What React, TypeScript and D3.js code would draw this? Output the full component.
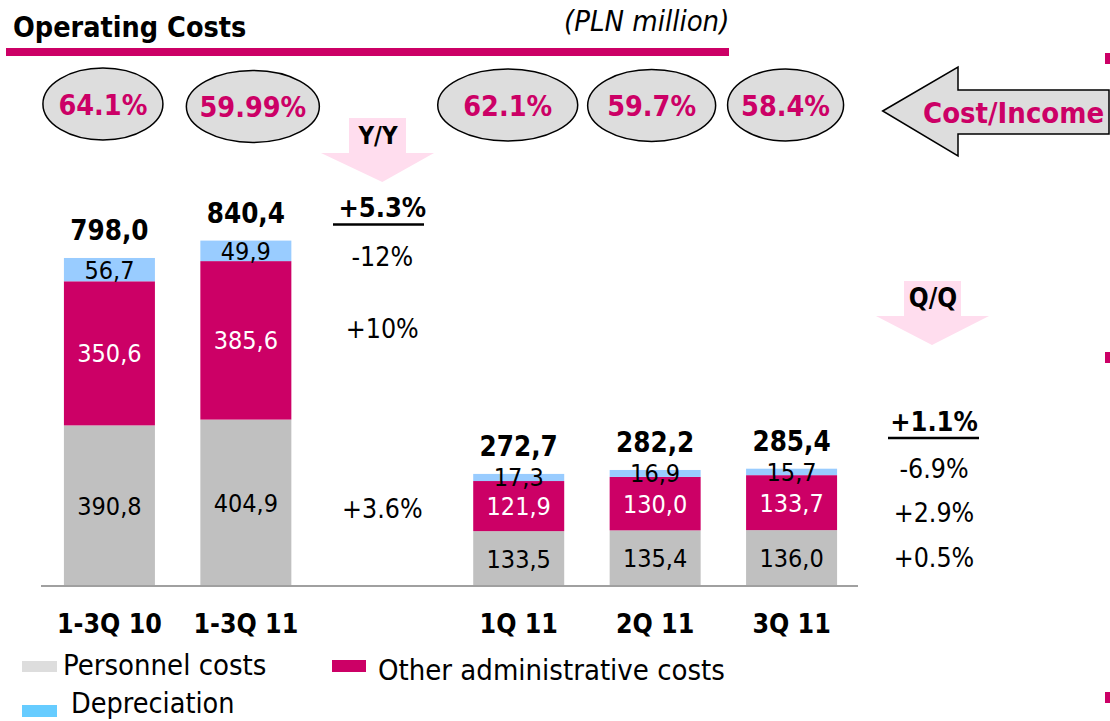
import React from "react";
import * as d3 from "d3";

const categories = ["1-3Q 10", "1-3Q 11", "1Q 11", "2Q 11", "3Q 11"];
const personnel = [390.8, 404.9, 133.5, 135.4, 136.0];
const otherAdmin = [350.6, 385.6, 121.9, 130.0, 133.7];
const depreciation = [56.7, 49.9, 17.3, 16.9, 15.7];
const totals = [798.0, 840.4, 272.7, 282.2, 285.4];
const costIncome = ["64.1%", "59.99%", "62.1%", "59.7%", "58.4%"];
const yoyChanges = ["+5.3%", "-12%", "+10%", "+3.6%"];
const qoqChanges = ["+1.1%", "-6.9%", "+2.9%", "+0.5%"];

const MAGENTA = "#CC0066";
const GRAY = "#C0C0C0";
const BLUE = "#99CCFF";
const FONT = "'DejaVu Sans Condensed', 'DejaVu Sans', sans-serif";

const width = 1110;
const height = 721;

// band slot between the yearly and the quarterly bars holds the Y/Y column
const slots = ["1-3Q 10", "1-3Q 11", "Y/Y", "1Q 11", "2Q 11", "3Q 11"];

const App: React.FC = () => {
  const x = d3
    .scaleBand<string>()
    .domain(slots)
    .range([41, 860])
    .paddingInner(0.333)
    .paddingOuter(0.168);
  const y = d3.scaleLinear().domain([0, 1000]).range([586, 175]);
  const bw = x.bandwidth();

  const stack = d3
    .stack<number>()
    .keys(["personnel", "other", "dep"])
    .value((i, key) =>
      key === "personnel" ? personnel[i] : key === "other" ? otherAdmin[i] : depreciation[i]
    );
  const series = stack(categories.map((_, i) => i));
  const fills = [GRAY, MAGENTA, BLUE];
  const labelFills = ["#000", "#fff", "#000"];
  const segValues = [personnel, otherAdmin, depreciation];

  // ellipse layout (offset from bar centre, radii)
  const ellOffset = [-6.5, 7, -11, -3.5, -6];
  const ellRx = [60, 66.5, 70, 64, 58];
  const ellCy = [104, 106.5, 105, 105.5, 105];
  const ellRy = 36;

  const yoyX = (x("Y/Y") ?? 0) + bw / 2;
  const yoyY = [217, 266, 338, 518];
  const qoqX = 934;
  const qoqY = [431, 478, 522, 567];

  return (
    <svg
      width={width}
      height={height}
      style={{ position: "absolute", left: 0, top: 0, background: "#fff" }}
      fontFamily={FONT}
    >
      {/* header */}
      <text x={13} y={37} fontSize={28.5} fontWeight="bold" fill="#000">
        Operating Costs
      </text>
      <text x={564} y={31} fontSize={29} fontStyle="italic" fill="#000">
        (PLN million)
      </text>
      <rect x={6} y={48} width={723} height={8} fill={MAGENTA} />

      {/* right edge markers */}
      {[53, 352, 692].map((my) => (
        <rect key={my} x={1105} y={my} width={6} height={11} fill={MAGENTA} />
      ))}

      {/* cost/income ellipses */}
      {categories.map((c, i) => {
        const cx = (x(c) ?? 0) + bw / 2 + ellOffset[i];
        return (
          <g key={"e" + c}>
            <ellipse
              cx={cx}
              cy={ellCy[i]}
              rx={ellRx[i]}
              ry={ellRy}
              fill="#DDDDDD"
              stroke="#000"
              strokeWidth={1.5}
            />
            <text
              x={cx}
              y={ellCy[i] + 10.5}
              textAnchor="middle"
              fontSize={28.5}
              fontWeight="bold"
              fill={MAGENTA}
            >
              {costIncome[i]}
            </text>
          </g>
        );
      })}

      {/* Cost/Income arrow */}
      <path
        d="M882.7,111 L958,67 L958,90 L1109,90 L1109,134 L958,134 L958,156 Z"
        fill="#DDDDDD"
        stroke="#000"
        strokeWidth={1.5}
      />
      <text x={923} y={123} fontSize={29} fontWeight="bold" fill={MAGENTA}>
        Cost/Income
      </text>

      {/* Y/Y and Q/Q arrows */}
      <path
        d={`M349,118 L406,118 L406,153 L434,153 L${yoyX},182 L321,153 L349,153 Z`}
        fill="#FFDDEE"
      />
      <text x={378} y={144} textAnchor="middle" fontSize={24} fontWeight="bold">
        Y/Y
      </text>
      <path d="M904,281 L961,281 L961,316 L989,316 L932,345 L876,316 L904,316 Z" fill="#FFDDEE" />
      <text x={933} y={307} textAnchor="middle" fontSize={26} fontWeight="bold">
        Q/Q
      </text>

      {/* stacked bars */}
      {series.map((s, k) => (
        <g key={s.key}>
          {s.map((d, i) => {
            const x0 = x(categories[i]) ?? 0;
            const y0 = y(d[1]);
            const h = y(d[0]) - y(d[1]);
            return (
              <g key={categories[i]}>
                <rect x={x0} y={y0} width={bw} height={h} fill={fills[k]} />
                <text
                  x={x0 + bw / 2}
                  y={y0 + h / 2}
                  dy="0.36em"
                  textAnchor="middle"
                  fontSize={25}
                  fill={labelFills[k]}
                >
                  {segValues[k][i].toFixed(1).replace(".", ",")}
                </text>
              </g>
            );
          })}
        </g>
      ))}

      {/* totals */}
      {categories.map((c, i) => (
        <text
          key={"t" + c}
          x={(x(c) ?? 0) + bw / 2}
          y={y(totals[i]) - 18}
          textAnchor="middle"
          fontSize={27.5}
          fontWeight="bold"
        >
          {totals[i].toFixed(1).replace(".", ",")}
        </text>
      ))}

      {/* axis */}
      <line x1={41} x2={858} y1={y(0)} y2={y(0)} stroke="#A0A0A0" strokeWidth={2} />
      {categories.map((c) => (
        <text
          key={"c" + c}
          x={(x(c) ?? 0) + bw / 2}
          y={633}
          textAnchor="middle"
          fontSize={26.5}
          fontWeight="bold"
        >
          {c}
        </text>
      ))}

      {/* Y/Y changes */}
      {yoyChanges.map((v, i) => (
        <text
          key={"y" + i}
          x={yoyX}
          y={yoyY[i]}
          textAnchor="middle"
          fontSize={i === 0 ? 27 : 26.5}
          fontWeight={i === 0 ? "bold" : "normal"}
        >
          {v}
        </text>
      ))}
      <line x1={333} x2={424} y1={224.5} y2={224.5} stroke="#000" strokeWidth={2.5} />

      {/* Q/Q changes */}
      {qoqChanges.map((v, i) => (
        <text
          key={"q" + i}
          x={qoqX}
          y={qoqY[i]}
          textAnchor="middle"
          fontSize={i === 0 ? 27 : 26.5}
          fontWeight={i === 0 ? "bold" : "normal"}
        >
          {v}
        </text>
      ))}
      <line x1={888} x2={979} y1={438} y2={438} stroke="#000" strokeWidth={2.5} />

      {/* legend */}
      <rect x={22} y={661} width={35} height={11} fill="#DDDDDD" />
      <text x={63} y={675} fontSize={29}>
        Personnel costs
      </text>
      <rect x={332} y={660} width={34} height={12} fill={MAGENTA} />
      <text x={378} y={680} fontSize={29}>
        Other administrative costs
      </text>
      <rect x={22} y={705} width={35} height={12} fill="#66CCFF" />
      <text x={71} y={713} fontSize={28.5}>
        Depreciation
      </text>
    </svg>
  );
};

export default App;
